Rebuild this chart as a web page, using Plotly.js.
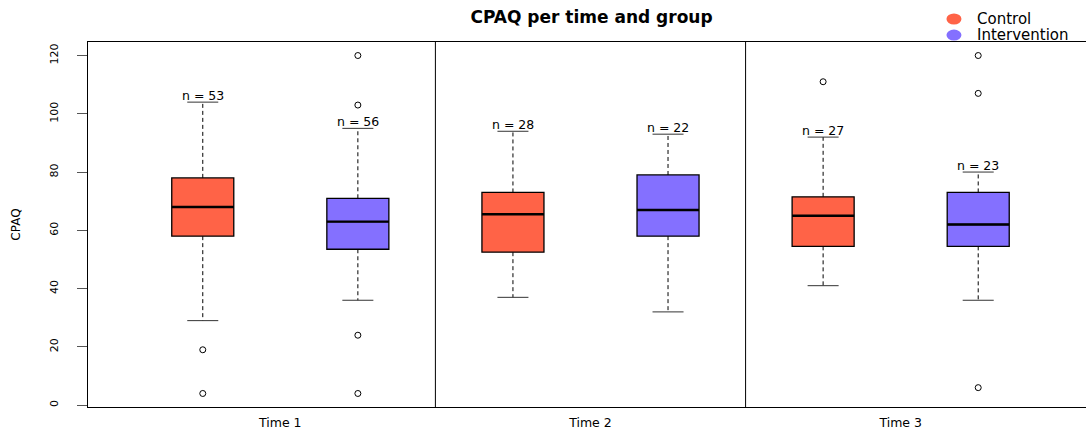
<!DOCTYPE html>
<html>
<head>
<meta charset="utf-8">
<script src="https://cdn.plot.ly/plotly-3.0.1.min.js"></script>
<style>html,body{margin:0;padding:0;background:#fff;}</style>
</head>
<body>
<div id="chart" style="width:1086px;height:430px;"></div>
<script>
// ---- data ----
const times = ['Time 1', 'Time 2', 'Time 3'];
const timeCenters = [1.5, 3.5, 5.5];
const separators = [2.5, 4.5];
const groups = ['Control', 'Intervention'];
const colors = ['#FF6347', '#8470FF'];

const controlPos = [1, 3, 5];
const controlQ1 = [58, 52.5, 54.5];
const controlMedian = [68, 65.5, 65];
const controlQ3 = [78, 73, 71.5];
const controlLower = [29, 37, 41];
const controlUpper = [104, 94, 92];
const controlN = [53, 28, 27];
const controlOutliers = [[19, 4], [], [111]];

const intervPos = [2, 4, 6];
const intervQ1 = [53.5, 58, 54.5];
const intervMedian = [63, 67, 62];
const intervQ3 = [71, 79, 73];
const intervLower = [36, 32, 36];
const intervUpper = [95, 93, 80];
const intervN = [56, 22, 23];
const intervOutliers = [[120, 103, 24, 4], [], [120, 107, 6]];

// ---- build ----
const FONT = 'DejaVu Sans';
const series = [
  {name: groups[0], color: colors[0], pos: controlPos, q1: controlQ1, med: controlMedian, q3: controlQ3, lo: controlLower, hi: controlUpper, n: controlN, out: controlOutliers},
  {name: groups[1], color: colors[1], pos: intervPos, q1: intervQ1, med: intervMedian, q3: intervQ3, lo: intervLower, hi: intervUpper, n: intervN, out: intervOutliers}
];

const BOXW = 0.4, CAPW = 0.2;
const traces = [];
const annotations = [];

series.forEach(s => {
  // whiskers (dashed) and caps
  const wx = [], wy = [];
  const cx = [], cy = [];
  s.pos.forEach((p, i) => {
    wx.push(p, p, null, p, p, null);
    wy.push(s.q3[i], s.hi[i], null, s.q1[i], s.lo[i], null);
    cx.push(p - CAPW / 2, p + CAPW / 2, null, p - CAPW / 2, p + CAPW / 2, null);
    cy.push(s.hi[i], s.hi[i], null, s.lo[i], s.lo[i], null);
  });
  traces.push({type: 'scatter', mode: 'lines', x: wx, y: wy, showlegend: false, hoverinfo: 'skip',
    line: {color: '#000', width: 1, dash: '4px,3px'}});
  traces.push({type: 'scatter', mode: 'lines', x: cx, y: cy, showlegend: false, hoverinfo: 'skip',
    line: {color: '#333', width: 1}});
  // boxes
  traces.push({type: 'box', name: s.name, x: s.pos, q1: s.q1, median: s.med, q3: s.q3,
    lowerfence: s.q1, upperfence: s.q3, width: BOXW, whiskerwidth: 0,
    fillcolor: s.color, line: {color: '#000', width: 1.3}, boxpoints: false, showlegend: false});
  // thick medians
  const mx = [], my = [];
  s.pos.forEach((p, i) => { mx.push(p - BOXW / 2, p + BOXW / 2, null); my.push(s.med[i], s.med[i], null); });
  traces.push({type: 'scatter', mode: 'lines', x: mx, y: my, showlegend: false, hoverinfo: 'skip',
    line: {color: '#000', width: 2.4}});
  // outliers
  const ox = [], oy = [];
  s.out.forEach((arr, i) => arr.forEach(v => { ox.push(s.pos[i]); oy.push(v); }));
  traces.push({type: 'scatter', mode: 'markers', x: ox, y: oy, showlegend: false,
    marker: {symbol: 'circle-open', size: 6, color: '#000', line: {width: 1, color: '#000'}}});
  // n labels
  s.pos.forEach((p, i) => {
    annotations.push({x: p, y: s.hi[i], xref: 'x', yref: 'y', text: 'n = ' + s.n[i], showarrow: false,
      yanchor: 'bottom', yshift: -3, font: {family: FONT, size: 12.5, color: '#000'}});
  });
});

// legend (manual)
const shapes = [];
const legendY = [1.063, 1.019];
groups.forEach((g, i) => {
  annotations.push({xref: 'paper', yref: 'paper', x: 0.8898, y: legendY[i], xanchor: 'left', yanchor: 'middle',
    text: g, showarrow: false, borderpad: 0, font: {family: FONT, size: 15, color: '#000'}});
  shapes.push({type: 'circle', xref: 'paper', yref: 'paper', xsizemode: 'pixel', ysizemode: 'pixel',
    xanchor: 0.8677, yanchor: legendY[i], x0: -7.5, x1: 7.5, y0: -5.5, y1: 5.5,
    fillcolor: colors[i], line: {width: 0}});
});
separators.forEach(x => {
  shapes.push({type: 'line', xref: 'x', yref: 'paper', x0: x, x1: x, y0: 0, y1: 1, line: {color: '#000', width: 1}});
});

const layout = {
  width: 1086, height: 430,
  margin: {l: 88, r: 0, t: 42, b: 23},
  paper_bgcolor: '#fff', plot_bgcolor: '#fff',
  showlegend: false,
  boxmode: 'overlay',
  font: {family: FONT, color: '#000'},
  title: {text: 'CPAQ per time and group', xref: 'container', x: 0.5447, xanchor: 'center',
    yref: 'container', y: 0.96, yanchor: 'middle',
    font: {family: FONT, size: 17, weight: 'bold', color: '#000'}},
  xaxis: {range: [0.26, 6.695], tickmode: 'array', tickvals: timeCenters, ticktext: times,
    showgrid: false, zeroline: false, showline: true, mirror: true, linecolor: '#000', linewidth: 1,
    ticks: '', ticklabelstandoff: 4, tickfont: {family: FONT, size: 12.5, color: '#000'}},
  yaxis: {range: [-0.64, 124.64], tickmode: 'linear', tick0: 0, dtick: 20,
    showgrid: false, zeroline: false, showline: true, mirror: true, linecolor: '#000', linewidth: 1.5,
    ticks: 'outside', ticklen: 10, tickcolor: '#555', tickangle: -90, ticklabelstandoff: 14,
    tickfont: {family: FONT, size: 11, color: '#000'},
    title: {text: 'CPAQ', standoff: 25, font: {family: FONT, size: 12, color: '#000'}}},
  annotations: annotations,
  shapes: shapes
};

Plotly.newPlot('chart', traces, layout, {displayModeBar: false, staticPlot: true});
</script>
</body>
</html>
